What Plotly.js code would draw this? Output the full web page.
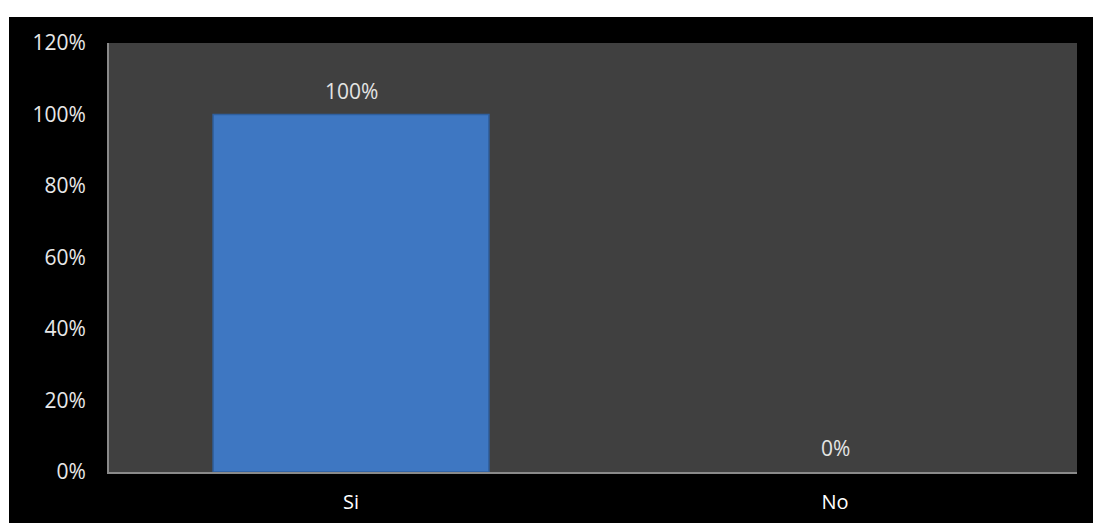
<!DOCTYPE html>
<html><head><meta charset="utf-8">
<script src="https://cdn.plot.ly/plotly-3.0.1.min.js"></script>
<style>
html,body{margin:0;padding:0;background:#fff;width:1093px;height:523px;overflow:hidden;}
#chart{position:absolute;left:9px;top:17px;width:1084px;height:506px;}
</style></head><body>
<div id="chart"></div>
<script>
const categories = ["Si", "No"];
const values = [1.00, 0.00];
const valueLabels = ["100%", "0%"];
const yTickVals = [0, 0.2, 0.4, 0.6, 0.8, 1.0, 1.2];
const yTickText = ["0%", "20%", "40%", "60%", "80%", "100%", "120%"];

const font = "Open Sans, Liberation Sans, sans-serif";
const annotations = categories.map((c, i) => ({
  x: c, y: values[i], xref: "x", yref: "y",
  text: valueLabels[i], showarrow: false,
  yanchor: "bottom", yshift: 8,
  font: {family: font, size: 21, color: "#e4e4e4"}
}));
Plotly.newPlot("chart", [{
  type: "bar",
  x: categories,
  y: values,
  marker: {color: "#3e77c2", line: {color: "#2f5f9e", width: values.map(v => v > 0 ? 1.5 : 0)}},
  hoverinfo: "none"
}], {
  width: 1084, height: 506,
  margin: {l: 100, r: 16, t: 26, b: 51},
  paper_bgcolor: "#000000",
  plot_bgcolor: "#404040",
  bargap: 0.43,
  showlegend: false,
  annotations: annotations,
  font: {family: font, color: "#e8e8e8", size: 20},
  xaxis: {
    showgrid: false, showline: true, linecolor: "#8a8a8a", linewidth: 2,
    ticks: "", tickfont: {family: font, size: 20, color: "#ffffff"}, zeroline: false,
    ticklabelstandoff: 11
  },
  yaxis: {
    range: [0, 1.2], tickvals: yTickVals, ticktext: yTickText,
    showgrid: false, showline: true, linecolor: "#8a8a8a", linewidth: 2,
    ticks: "", ticklen: 0, tickfont: {family: font, size: 21, color: "#e8e8e8"},
    zeroline: false, ticklabelstandoff: 17
  }
}, {staticPlot: true});
</script>
</body></html>
